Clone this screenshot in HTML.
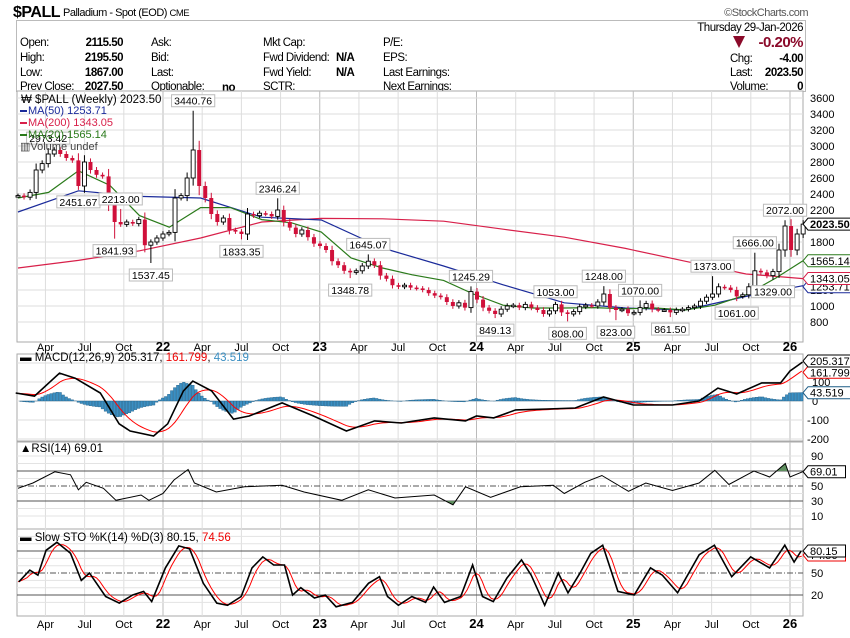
<!DOCTYPE html>
<html><head><meta charset="utf-8"><style>
body{margin:0;background:#fff;}
svg text{font-family:"Liberation Sans",sans-serif;}
.hd text{letter-spacing:-0.5px;}
</style></head><body>
<svg id="c" width="850" height="633" xmlns="http://www.w3.org/2000/svg">
<rect width="850" height="633" fill="#fff"/>
<g class="hd" font-size="11.5" fill="#000">
<text x="13" y="17" font-size="16" font-weight="bold">$PALL</text>
<text x="63" y="16" font-size="11">Palladium - Spot (EOD) <tspan font-size="9.5">CME</tspan></text>
<text x="808" y="16" font-size="11" text-anchor="end" fill="#555">©StockCharts.com</text>
<rect x="16.5" y="20.5" width="789" height="71" fill="none" stroke="#bbb"/>
<text x="803" y="31" text-anchor="end">Thursday  29-Jan-2026</text>
<g>
<text x="20" y="46">Open:</text><text x="123" y="46" text-anchor="end" font-weight="bold">2115.50</text>
<text x="20" y="61">High:</text><text x="123" y="61" text-anchor="end" font-weight="bold">2195.50</text>
<text x="20" y="76">Low:</text><text x="123" y="76" text-anchor="end" font-weight="bold">1867.00</text>
<text x="20" y="90">Prev Close:</text><text x="123" y="90" text-anchor="end" font-weight="bold">2027.50</text>
<text x="151" y="46">Ask:</text><text x="151" y="61">Bid:</text><text x="151" y="76">Last:</text><text x="151" y="90">Optionable:</text>
<text x="222" y="91" font-weight="bold">no</text>
<text x="263" y="46">Mkt Cap:</text><text x="263" y="61">Fwd Dividend:</text><text x="336" y="61" font-weight="bold">N/A</text>
<text x="263" y="76">Fwd Yield:</text><text x="336" y="76" font-weight="bold">N/A</text><text x="263" y="90">SCTR:</text>
<text x="383" y="46">P/E:</text><text x="383" y="61">EPS:</text><text x="383" y="76">Last Earnings:</text><text x="383" y="90">Next Earnings:</text>
<polygon points="733,36 745,36 739,48" fill="#8b0a2a"/>
<text x="803" y="47" text-anchor="end" font-size="15" font-weight="bold" fill="#8b0a2a">-0.20%</text>
<text x="730" y="62">Chg:</text><text x="803" y="62" text-anchor="end" font-weight="bold">-4.00</text>
<text x="730" y="76">Last:</text><text x="803" y="76" text-anchor="end" font-weight="bold">2023.50</text>
<text x="730" y="90">Volume:</text><text x="803" y="90" text-anchor="end" font-weight="bold">0</text>
</g></g>
<g id="grid"></g>
<g id="marks"></g>
<g id="labels"></g>
</svg>
<script>
// ---------- data ----------
const priceStart = 2021.075, priceStep = 0.03853; // biweekly
const closes = [2380,2360,2420,2700,2780,2900,2950,2900,2850,2820,2500,2800,2700,2640,2620,2280,2050,2020,2050,2030,2080,1760,1800,1850,1900,1920,2350,2380,2600,2950,2500,2350,2150,2050,2100,1950,1930,1900,2150,2130,2160,2150,2120,2200,2050,1980,1900,1950,1860,1780,1750,1700,1560,1510,1440,1420,1440,1500,1560,1510,1380,1340,1260,1240,1260,1230,1220,1200,1160,1130,1110,1050,1000,1040,980,1180,1080,980,940,900,960,1000,1010,980,1020,980,950,900,940,1020,920,900,930,990,1010,1000,1050,1150,980,950,960,910,920,980,1030,960,950,950,920,950,960,980,1000,1060,1110,1150,1240,1230,1200,1120,1140,1240,1440,1420,1380,1430,1700,2000,1700,1900,2023.5];
const annIdx = [5,10,17,16,22,29,37,43,58,55,75,79,89,91,97,99,103,108,115,119,122,125,127];
const annVal = [2973.42,2451.67,2213.00,1841.93,1537.45,3440.76,1833.35,2346.24,1645.07,1348.78,1245.29,849.13,1053.00,808.00,1248.00,823.00,1070.00,861.50,1373.00,1061.00,1666.00,1329.00,2072.00];
const annHigh = [1,0,1,0,0,1,0,1,1,0,1,0,1,0,1,0,1,0,1,0,1,0,1];
const maT = [2021.075,2021.46,2021.85,2022.24,2022.63,2023.01,2023.40,2023.79,2024.17,2024.56,2024.95,2025.33,2025.72,2026.083];
const ma200 = [1475,1570,1690,1850,2050,2095,2090,2060,1960,1860,1720,1560,1400,1343.05];
const ma50 = [2175,2440,2370,2350,2110,2075,1725,1500,1265,1040,975,950,1120,1253.71];
const ma20T = [2021.075,2021.27,2021.46,2021.66,2021.85,2022.04,2022.24,2022.43,2022.63,2022.82,2023.01,2023.20,2023.40,2023.59,2023.79,2023.98,2024.17,2024.36,2024.56,2024.75,2024.95,2025.14,2025.33,2025.52,2025.72,2025.91,2026.083];
const ma20 = [2350,2420,2690,2510,2130,1985,2230,2230,2080,2040,1925,1600,1475,1390,1320,1150,1010,975,975,980,965,975,950,1010,1140,1350,1565.14];
const macdT = [2021.06,2021.18,2021.34,2021.44,2021.60,2021.72,2021.79,2021.94,2022.03,2022.13,2022.19,2022.31,2022.45,2022.55,2022.76,2022.96,2023.17,2023.35,2023.52,2023.73,2023.93,2024.00,2024.11,2024.25,2024.45,2024.63,2024.81,2025.00,2025.25,2025.42,2025.54,2025.66,2025.82,2025.94,2026.00,2026.08];
const macdVal = [42,26,147,120,42,-120,-158,-184,-120,53,105,53,-95,-79,-10,-79,-158,-105,-116,-89,-105,-79,-89,-47,-42,-37,21,-21,-21,0,68,37,95,95,158,205];
const rsiT = [2021.075,2021.17,2021.31,2021.41,2021.46,2021.51,2021.62,2021.70,2021.86,2021.91,2022.00,2022.07,2022.16,2022.20,2022.34,2022.52,2022.76,2022.90,2023.14,2023.31,2023.48,2023.73,2023.85,2023.93,2024.09,2024.28,2024.49,2024.56,2024.69,2024.80,2024.97,2025.08,2025.25,2025.42,2025.52,2025.61,2025.77,2025.87,2025.97,2026.00,2026.08];
const rsiVal = [47,54,69,65,45,55,47,31,38,31,40,58,72,54,42,49,51,42,31,45,34,38,25,49,35,49,51,40,55,64,43,54,44,54,71,52,70,62,80,62,69];
const stoT = [2021.081,2021.150,2021.202,2021.254,2021.323,2021.410,2021.479,2021.531,2021.634,2021.721,2021.807,2021.876,2021.928,2022.015,2022.101,2022.170,2022.257,2022.343,2022.412,2022.499,2022.568,2022.637,2022.706,2022.775,2022.827,2022.879,2022.966,2023.035,2023.104,2023.208,2023.311,2023.381,2023.432,2023.502,2023.588,2023.675,2023.726,2023.796,2023.899,2023.975,2024.038,2024.107,2024.193,2024.287,2024.349,2024.435,2024.522,2024.584,2024.660,2024.729,2024.805,2024.902,2025.006,2025.110,2025.186,2025.283,2025.421,2025.518,2025.628,2025.749,2025.870,2025.967,2026.026,2026.071];
const stoK = [38,54,47,81,92,77,40,50,18,9,20,25,11,57,87,83,36,9,6,18,57,72,61,61,20,30,16,20,4,10,36,45,18,6,18,10,31,10,18,61,18,11,43,68,47,6,50,23,50,77,88,25,20,57,47,23,75,88,45,72,57,88,65,80.15];
const xTickT = [2021.25,2021.5,2021.75,2022,2022.25,2022.5,2022.75,2023,2023.25,2023.5,2023.75,2024,2024.25,2024.5,2024.75,2025,2025.25,2025.5,2025.75,2026];
const xTickLab = ["Apr","Jul","Oct","22","Apr","Jul","Oct","23","Apr","Jul","Oct","24","Apr","Jul","Oct","25","Apr","Jul","Oct","26"];
const priceTicks = [3600,3400,3200,3000,2800,2600,2400,2200,2000,1800,1600,1400,1200,1000,800];
const macdTicks = [100,0,-100,-200];
const rsiTicks = [90,50,30,10];
const stoTicks = [50,20];

// ---------- scales ----------
const L=17,R=803;
const xT=t=>163+(t-2022)*156.75;
const yP=p=>322-(p-800)*0.08;
const yM=v=>401-v*0.19;
const yR=v=>523.5-0.75*v;
const yS=v=>609.7-0.733*v;
const NS="http://www.w3.org/2000/svg";
const G=document.getElementById('grid'),M=document.getElementById('marks'),LB=document.getElementById('labels');
function el(p,tag,a){const e=document.createElementNS(NS,tag);for(const k in a)e.setAttribute(k,a[k]);p.appendChild(e);return e;}
function txt(p,x,y,s,a){const e=el(p,'text',Object.assign({x:x,y:y},a||{}));e.textContent=s;return e;}
function interp(ts,vs,t){if(t<=ts[0])return vs[0];for(let i=1;i<ts.length;i++){if(t<=ts[i]){const f=(t-ts[i-1])/(ts[i]-ts[i-1]);return vs[i-1]+f*(vs[i]-vs[i-1]);}}return vs[vs.length-1];}

// panels
const panels=[[91,342],[354,441],[442,529],[529,616]];
panels.forEach((p,k)=>{
  const r=el(G,'rect',{x:L,y:p[0],width:R-L,height:p[1]-p[0],fill:'#fff',stroke:'#aaa'});
  
  
});
panels.forEach(p=>{xTickT.forEach((t,i)=>{const x=xT(t);el(G,'line',{x1:x,x2:x,y1:p[0],y2:p[1],stroke:/\d/.test(xTickLab[i])?'#bbb':'#ddd'});});});
priceTicks.forEach(v=>el(G,'line',{x1:L,x2:R,y1:yP(v),y2:yP(v),stroke:'#ddd'}));
[200,100,0,-100,-200].forEach(v=>el(G,'line',{x1:L,x2:R,y1:yM(v),y2:yM(v),stroke:'#ddd'}));
for(let v=10;v<=90;v+=10){if(v!=30&&v!=50&&v!=70)el(G,'line',{x1:L,x2:R,y1:yR(v),y2:yR(v),stroke:'#e3e3e3'});}
for(let v=10;v<=100;v+=10){if(v!=20&&v!=50&&v!=80)el(G,'line',{x1:L,x2:R,y1:yS(v),y2:yS(v),stroke:'#e3e3e3'});}
[70,30].forEach(v=>el(G,'line',{x1:L,x2:R,y1:yR(v),y2:yR(v),stroke:'#555'}));
el(G,'line',{x1:L,x2:R,y1:yR(50),y2:yR(50),stroke:'#555','stroke-dasharray':'6,2,1,2'});
[80,20].forEach(v=>el(G,'line',{x1:L,x2:R,y1:yS(v),y2:yS(v),stroke:'#555'}));
el(G,'line',{x1:L,x2:R,y1:yS(50),y2:yS(50),stroke:'#555','stroke-dasharray':'6,2,1,2'});

function xAxis(y){xTickT.forEach((t,i)=>{const yr=/\d/.test(xTickLab[i]);const e=txt(LB,xT(t),y,xTickLab[i],{'text-anchor':'middle','font-size':yr?13:11,'font-weight':yr?'bold':'normal'});
  
  });}
xAxis(351);xAxis(628);
priceTicks.forEach(v=>{if(v==1400||v==1600)return;const e=txt(LB,810,yP(v)+4,String(v),{'font-size':11});
  
  });
macdTicks.forEach(v=>{const e=txt(LB,v<0?807:812,yM(v)+4,String(v),{'font-size':11});
  
  });
rsiTicks.forEach(v=>{const e=txt(LB,811,yR(v)+4,String(v),{'font-size':11});
  
  });
stoTicks.forEach(v=>{const e=txt(LB,811,yS(v)+4,String(v),{'font-size':11});
  
  });

// ---------- price ----------
function line(p,ts,vs,ys,col,w){const d=ts.map((t,i)=>(i?'L':'M')+xT(t).toFixed(1)+','+ys(vs[i]).toFixed(1)).join('');return el(p,'path',{d:d,fill:'none',stroke:col,'stroke-width':w||1});}
const c200=line(M,maT,ma200,yP,'#d8204a',1.2);


const c50=line(M,maT,ma50,yP,'#1a2a9a',1.2);


const c20=line(M,ma20T,ma20,yP,'#2a7a1a',1.2);


const hi={},lo={};
annIdx.forEach((i,k)=>{if(annHigh[k])hi[i]=annVal[k];else lo[i]=annVal[k];});
closes.forEach((c,i)=>{
  const o=i?closes[i-1]:c;const t=priceStart+i*priceStep;const x=xT(t);
  const up=c>=o;const col=up?'#000':'#d0103a';
  const h=hi[i]||Math.max(o,c)+Math.abs(c-o)*0.2+25;const l=lo[i]||Math.min(o,c)-Math.abs(c-o)*0.2-25;
  const g=el(M,'g',{});
  
  
  el(g,'line',{x1:x,x2:x,y1:yP(h),y2:yP(l),stroke:col});
  const top=yP(Math.max(o,c)),bh=Math.max(1.5,yP(Math.min(o,c))-top);
  el(g,'rect',{x:x-2,y:top,width:4,height:bh,fill:up?'#fff':col,stroke:col,'stroke-width':up?0.9:0});
});
annIdx.forEach((i,k)=>{
  const x=xT(priceStart+i*priceStep);const s=annVal[k].toFixed(2);const w=s.length*5.6+4;
  const y=annHigh[k]?yP(annVal[k])-16:yP(annVal[k])+6;
  const g=el(LB,'g',{});
  
  
  el(g,'rect',{x:x-w/2,y:y,width:w,height:12,fill:'#fff',stroke:'#bbb'});
  txt(g,x,y+10,s,{'text-anchor':'middle','font-size':10.5});
});
const lg=el(LB,'g',{'font-size':11});


txt(lg,21,103,'₩ $PALL (Weekly) 2023.50',{'font-size':11.5});
[['MA(50) 1253.71','#1a2a9a'],['MA(200) 1343.05','#d8204a'],['MA(20) 1565.14','#2a7a1a']].forEach((m,k)=>{const y=114+k*12;el(lg,'line',{x1:20,x2:27,y1:y-3,y2:y-3,stroke:m[1],'stroke-width':2});txt(lg,28,y,m[0],{fill:m[1]});});
txt(lg,20,150,'▥Volume undef',{fill:'#444'});
function tag(y,s,col,bold){const g=el(LB,'g',{});
  
  
  const w=s.length*6.3+6;el(g,'path',{d:`M803,${y} L808,${y-6} L${808+w},${y-6} L${808+w},${y+6} L808,${y+6}Z`,fill:'#fff',stroke:col});
  txt(g,810,y+4,s,{'font-size':11,'font-weight':bold?'bold':'normal',fill:'#000'});}
tag(yP(1253.71)+1,'1253.71','#1a2a9a');tag(yP(1343.05),'1343.05','#d8204a');tag(yP(1565.14),'1565.14','#2a7a1a');tag(yP(2023.5),'2023.50','#000',true);

// ---------- MACD ----------
const wk=[];for(let t=2021.075;t<=2026.084;t+=1/52)wk.push(t);
const mW=wk.map(t=>interp(macdT,macdVal,t));
const sig=[];mW.forEach((v,i)=>sig.push(i?sig[i-1]+0.2*(v-sig[i-1]):v));
mW.forEach((v,i)=>{const h=v-sig[i];const x=xT(wk[i]);const r=el(M,'rect',{x:x-1.3,y:Math.min(yM(0),yM(h)),width:2.6,height:Math.abs(yM(h)-yM(0)),fill:'#3b8fc2',stroke:'#1d5d86','stroke-width':0.4});
  
  });
const ms=line(M,wk,sig,yM,'#f00',1);


const mm=line(M,macdT,macdVal,yM,'#000',1.6);


const mt=txt(LB,20,361,'',{'font-size':11.5});


mt.innerHTML='<tspan font-weight="bold">▬</tspan> MACD(12,26,9) 205.317, <tspan fill="#e00">161.799</tspan>, <tspan fill="#3b8fc2">43.519</tspan>';
tag(yM(43.519),'43.519','#1d5d86');tag(yM(161.799)+2,'161.799','#e00');tag(yM(205.317)-1,'205.317','#000');

// ---------- RSI ----------
const rsiPath=rsiT.map((t,i)=>(i?'L':'M')+xT(t).toFixed(1)+','+yR(rsiVal[i]).toFixed(1)).join('');
const defs=el(document.getElementById('c'),'defs',{});
const cp1=el(defs,'clipPath',{id:'ob'});el(cp1,'rect',{x:L,y:442,width:R-L,height:yR(70)-442});
const cp2=el(defs,'clipPath',{id:'os'});el(cp2,'rect',{x:L,y:yR(30),width:R-L,height:529-yR(30)});
el(M,'path',{d:rsiPath+`L${xT(rsiT[rsiT.length-1])},${yR(70)}L${xT(rsiT[0])},${yR(70)}Z`,fill:'#5f8f5f','clip-path':'url(#ob)'});
el(M,'path',{d:rsiPath+`L${xT(rsiT[rsiT.length-1])},${yR(30)}L${xT(rsiT[0])},${yR(30)}Z`,fill:'#5f8f5f','clip-path':'url(#os)'});
const rl=el(M,'path',{d:rsiPath,fill:'none',stroke:'#000','stroke-width':1});


const rt=txt(LB,20,452,'▲RSI(14) 69.01',{'font-size':11.5});


tag(yR(69.01),'69.01','#000');

// ---------- STO ----------
const kW=wk.map(t=>interp(stoT,stoK,t));
const dW=kW.map((v,i)=>{const a=kW.slice(Math.max(0,i-3),i+1);return a.reduce((s,x)=>s+x,0)/a.length;});
const sd=line(M,wk,dW,yS,'#f00',1);


const sk=line(M,stoT,stoK,yS,'#000',1.6);


const st=txt(LB,20,541,'',{'font-size':11.5});


st.innerHTML='<tspan font-weight="bold">▬</tspan> Slow STO %K(14) %D(3) 80.15, <tspan fill="#e00">74.56</tspan>';
tag(yS(74.56),'74.56','#e00');tag(yS(80.15),'80.15','#000');
</script>
</body></html>
